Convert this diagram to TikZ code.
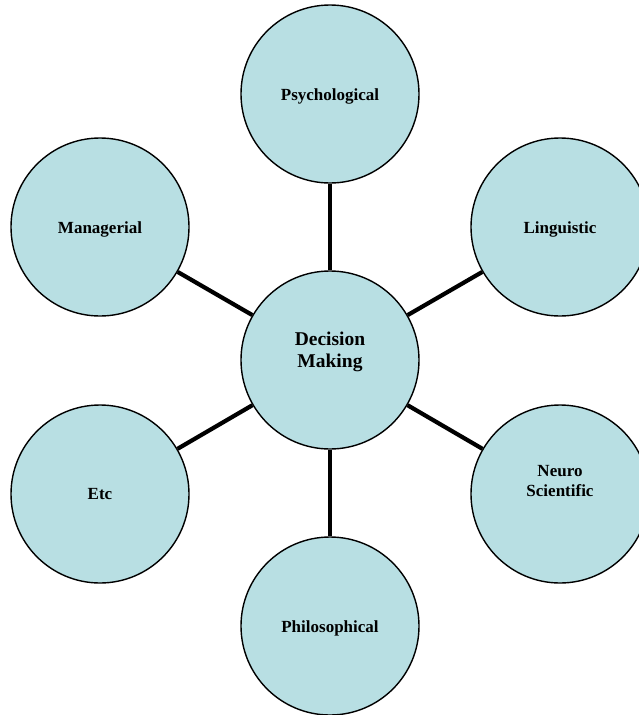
\documentclass[tikz,border=0pt]{standalone}
\usepackage{fontspec}
\setmainfont{Liberation Serif}
\definecolor{bubble}{RGB}{184,223,227}
\begin{document}
\begin{tikzpicture}[x=1pt,y=-1pt,
  bub/.style={circle,draw=black,line width=1.4pt,fill=bubble,minimum size=178pt,inner sep=0pt},
  lab/.style={font=\fontsize{17}{20}\selectfont\bfseries,align=center},
  biglab/.style={font=\fontsize{19.5}{22}\selectfont\bfseries,align=center},
  spoke/.style={line width=4.2pt}]
\useasboundingbox (0,0) rectangle (638,715);
\node[bub] (dm) at (330,360) {};
\node[bub] (psy) at (330,94) {};
\node[bub] (lin) at (560,227) {};
\node[bub] (neu) at (560,494) {};
\node[bub] (phi) at (330,626) {};
\node[bub] (etc) at (100,494) {};
\node[bub] (man) at (100,227) {};
\draw[spoke] (dm) -- (psy);
\draw[spoke] (dm) -- (lin);
\draw[spoke] (dm) -- (neu);
\draw[spoke] (dm) -- (phi);
\draw[spoke] (dm) -- (etc);
\draw[spoke] (dm) -- (man);
\node[biglab] (tdm) at (330,352) {Decision\\Making};
\node[lab] (tpsy) at (330,96) {Psychological};
\node[lab] (tlin) at (560,229) {Linguistic};
\node[lab] (tneu) at (560,481) {Neuro\\Scientific};
\node[lab] (tphi) at (330,628) {Philosophical};
\node[lab] (tetc) at (100,494) {Etc};
\node[lab] (tman) at (100,229) {Managerial};
\end{tikzpicture}
\end{document}
